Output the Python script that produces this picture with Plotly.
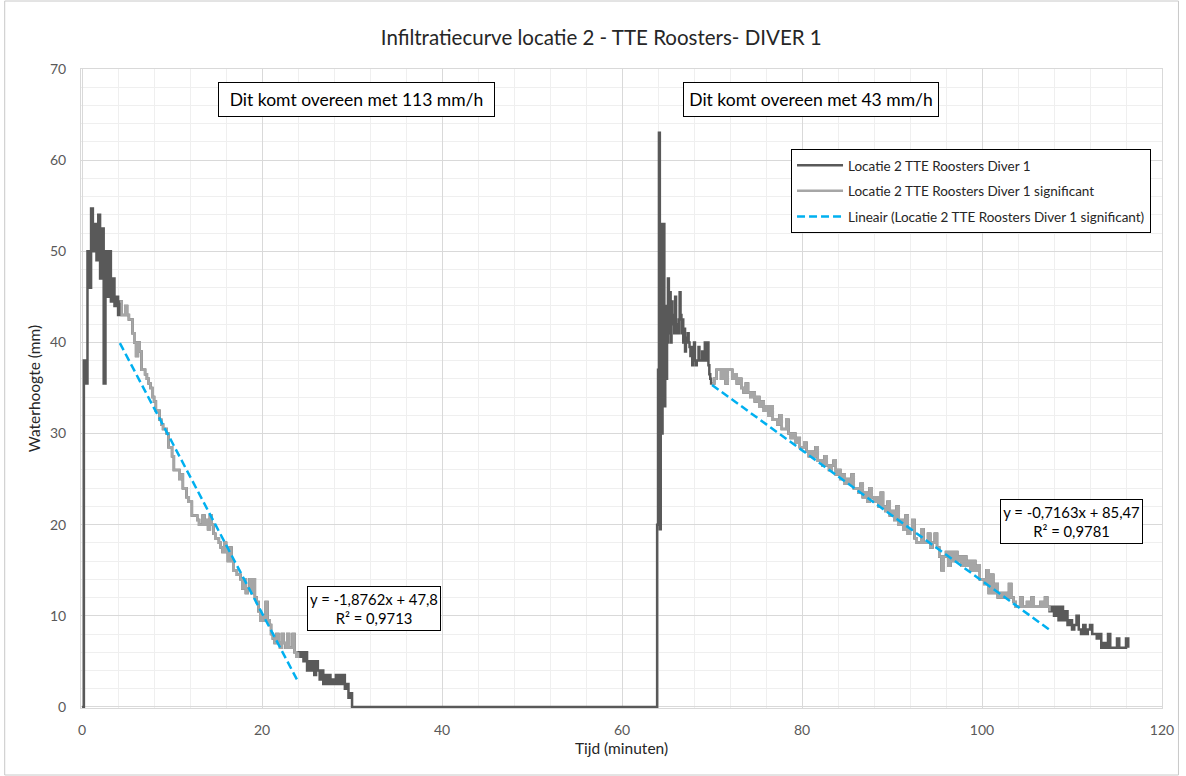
import numpy as np
import plotly.graph_objects as go

# ---- logger readings (water level in mm) ----
# first filling, one reading every 0.2 min from t = 0
seg1_start, seg1_step = 0.0, 0.2
seg1_level = [
    0, 38, 35.5, 50, 46, 54.7, 50, 53, 49, 54,
    47, 52.5, 35.5, 50, 45, 50, 44.5, 47, 44, 45,
    43, 44.5, 43, 43, 44, 43, 42.5, 42.5, 41, 40,
    38.5, 40, 39, 37, 37, 36.5, 36, 35.5, 35, 34,
    33.5, 32.5, 32.5, 31.5, 31, 30.5, 30.5, 30, 28.5, 28.5,
    27.5, 26, 26, 26, 25, 25.5, 24, 24, 23, 22.5,
    22.5, 21, 21, 21, 20.5, 20, 20, 21, 20, 20.5,
    19.5, 21, 20, 19, 18.5, 18.5, 18, 17.5, 17, 18,
    17, 16, 17.5, 16, 15, 15, 14.5, 14.5, 14, 13,
    14, 12.5, 13, 14, 12.5, 14, 12, 11.5, 10.5, 9.5,
    10, 9.5, 11.5, 9.5, 9, 8, 7.5, 7, 8, 7,
    6.5, 8, 7, 6.5, 8, 6.5, 6.5, 8, 6, 5.5,
    6, 5.5, 6, 5, 6, 4, 5, 4, 5, 3.5,
    5, 4, 3, 4, 2.5, 3.5, 2.5, 3.5, 2.5, 3,
    2.5, 3.5, 2.5, 3.5, 2.5, 3.5, 2, 2.5, 1, 1.5,
    0,
]
# empty period between the two fillings
idle_time = [30.0, 63.6]
idle_level = [0.0, 0.0]
# second filling, one reading every 0.1 min
seg2_start, seg2_step = 63.6, 0.1
seg2_level = [
    0, 0, 0, 20, 37, 63, 19.5, 53, 30, 36,
    53, 33, 44, 36, 40, 47, 41, 45.5, 40, 44.5,
    42, 43, 41, 45, 42, 41, 41, 42.5, 45.5, 43,
    41, 42.5, 40, 41.5, 39, 40.5, 40, 41, 40, 39.5,
    38.5, 39.5, 37.5, 38.5, 40, 38, 37.5, 38, 38, 39.5,
    38, 38, 38, 39, 38, 38.5, 40, 38, 38, 40,
    37.5, 36.5, 36, 35.5,
]
# remainder of the second filling, one reading every 0.25 min
seg3_start, seg3_step = 70.0, 0.25
seg3_level = [
    35.5, 36, 37, 37,  36, 37, 35.5, 37,  37, 36, 36.5, 35.5,
    36, 35, 34.5, 35.5,  34.5, 34, 34.5, 33.5,  34, 33, 33.5, 32.5,
    33, 32, 33, 31.5,  31.5, 31, 32, 30.5,  30.5, 31.5, 30, 29.5,
    30, 29, 29.5, 28.5,  28.5, 29, 28, 27.5,  28, 27.5, 28.5, 27,
    27, 26.5, 27.5, 26.5,  26, 26.5, 27, 25.5,  26, 25, 25.5, 24.5,
    25, 24.5, 25.5, 24,  24, 23.5, 24.5, 23,  23.5, 22.5, 24, 23,
    22.5, 23, 22, 23.5,  22, 21.5, 22.5, 21,  21.5, 20.5, 22, 20,
    20.5, 19.5, 21, 19,  19.5, 20.5, 18.5, 18,  18, 19.5, 18, 18,
    19, 17.5, 18, 19,  17.5, 16.5, 15, 16.5,  17, 15.5, 17, 16,
    17, 16, 16.5, 15.5,  16.5, 15.5, 16, 15,  16, 15, 15.5, 14,
    14, 13.5, 15, 12.5,  14.5, 12.5, 13.5, 12,  12.5, 12, 12.5, 12,
    13.5, 12, 11.5, 11,  11, 12, 11, 11,  11.5, 11, 12, 11,
    11, 11, 11.5, 11,  12, 11, 10.5, 11,  10, 11, 9.5, 11,
    9.5, 10.5, 9, 9.5,  8.5, 9, 10, 8.5,  8, 9, 8, 8.5,
    9, 8, 8, 7.5,  8, 6.5, 7, 6.5,  8, 6.5, 6.5, 6.5,
    7.5, 6.5, 6.5, 6.5,  7.5, 6.5,
]

# time windows used for the linear fits ("significant" part)
signif_windows = [(4.2, 24.0), (70.0, 107.5)]
trend_slope = [-1.8762, -0.7163]
trend_intercept = [47.8, 85.47]
trend_r2 = [0.9713, 0.9781]


def sample_times(start, step, values):
    return list(np.round(start + step * np.arange(len(values)), 3))


time = (sample_times(seg1_start, seg1_step, seg1_level)
        + idle_time
        + sample_times(seg2_start, seg2_step, seg2_level)
        + sample_times(seg3_start, seg3_step, seg3_level))
level = seg1_level + idle_level + seg2_level + seg3_level

# significant readings only; everything else left as a gap
signif_level = [
    y if any(a - 1e-9 <= t <= b + 1e-9 for a, b in signif_windows) else None
    for t, y in zip(time, level)
]

# linear trend lines over each fitting window
trend_x, trend_y = [], []
for (a, b), m, c in zip(signif_windows, trend_slope, trend_intercept):
    trend_x += [a, b, None]
    trend_y += [m * a + c, m * b + c, None]


def dutch(v):
    return str(v).replace(".", ",")


FONT = "Lato"
DARK = "#595959"
LIGHT = "#a6a6a6"
BLUE = "#00b0f0"

fig = go.Figure()
fig.add_trace(go.Scatter(
    x=time, y=level, mode="lines", name="Locatie 2 TTE Roosters Diver 1",
    line=dict(color=DARK, width=2.5, shape="hv"), legendgroup="a",
    hoverinfo="skip",
))
fig.add_trace(go.Scatter(
    x=time, y=signif_level, mode="lines",
    name="Locatie 2 TTE Roosters Diver 1 significant",
    line=dict(color=LIGHT, width=2.5, shape="hv"), connectgaps=False,
    legendgroup="b", hoverinfo="skip",
))
fig.add_trace(go.Scatter(
    x=trend_x, y=trend_y, mode="lines",
    name="Lineair (Locatie 2 TTE Roosters Diver 1 significant)",
    line=dict(color=BLUE, width=2.5, dash="8px,4px"), legendgroup="c",
    hoverinfo="skip",
))

annotations = []
# infiltration rate boxes (mm/min -> mm/h)
rate_pos = [(30.45, 66.7, 275), (80.95, 66.6, 254)]
for (x, y, w), m in zip(rate_pos, trend_slope):
    annotations.append(dict(
        x=x, y=y, xref="x", yref="y", showarrow=False,
        text=f"Dit komt overeen met {round(-m * 60)} mm/h",
        font=dict(family=FONT, size=17.5, color="#000000"),
        bgcolor="white", bordercolor="#000000", borderwidth=1, borderpad=0,
        width=w, height=33,
    ))
# trend equation boxes
eq_pos = [(32.45, 10.8, 132), (109.9, 20.4, 141)]
for (x, y, w), m, c, r2 in zip(eq_pos, trend_slope, trend_intercept, trend_r2):
    annotations.append(dict(
        x=x, y=y, xref="x", yref="y", showarrow=False,
        text=f"y = {dutch(m)}x + {dutch(c)}<br>R² = {dutch(r2)}",
        font=dict(family=FONT, size=14.8, color="#000000"),
        bgcolor="white", bordercolor="#000000", borderwidth=1, borderpad=0,
        width=w, height=43,
    ))

L, R, T, B = 81, 21, 69, 68
PW, PH = 1186 - L - R, 776 - T - B

fig.update_layout(
    width=1186, height=776,
    margin=dict(l=L, r=R, t=T, b=B),
    paper_bgcolor="white", plot_bgcolor="white",
    title=dict(
        text="Infiltratiecurve locatie 2 - TTE Roosters- DIVER 1",
        x=0.507, xanchor="center", y=1 - 38 / 776, yanchor="middle",
        font=dict(family=FONT, size=20.5, color="#262626"),
    ),
    font=dict(family=FONT, color=DARK),
    showlegend=True,
    legend=dict(
        x=(793 - L) / PW, y=(708 - 149) / PH, xanchor="left", yanchor="top",
        bgcolor="white", bordercolor="#000000", borderwidth=1,
        font=dict(family=FONT, size=13.5, color="#262626"),
        tracegroupgap=5, traceorder="grouped", itemwidth=46,
    ),
    annotations=annotations,
    shapes=[dict(
        type="rect", xref="paper", yref="paper",
        x0=(4.5 - L) / PW, x1=(1181.5 - L) / PW,
        y0=(708 - 775) / PH, y1=(708 - 1) / PH,
        line=dict(color="#c8c8c8", width=1), layer="below",
    )],
    xaxis=dict(
        range=[-0.12, 120], tickmode="linear", tick0=0, dtick=20,
        showgrid=True, gridcolor="#d9d9d9", gridwidth=1,
        minor=dict(dtick=4, showgrid=True, gridcolor="#efefef", gridwidth=1),
        zeroline=False, showline=True, linecolor="#d9d9d9", mirror=True,
        ticks="", ticklabelstandoff=9,
        tickfont=dict(family=FONT, size=14, color=DARK),
        title=dict(text="Tijd (minuten)", standoff=6,
                   font=dict(family=FONT, size=15.5, color="#262626")),
    ),
    yaxis=dict(
        range=[-0.12, 70], tickmode="linear", tick0=0, dtick=10,
        showgrid=True, gridcolor="#d9d9d9", gridwidth=1,
        minor=dict(dtick=2, showgrid=True, gridcolor="#efefef", gridwidth=1),
        zeroline=False, showline=True, linecolor="#d9d9d9", mirror=True,
        ticks="", ticklabelstandoff=11,
        tickfont=dict(family=FONT, size=14, color=DARK),
        title=dict(text="Waterhoogte (mm)", standoff=5,
                   font=dict(family=FONT, size=15.5, color="#262626")),
    ),
)

fig.write_html("out.html")
